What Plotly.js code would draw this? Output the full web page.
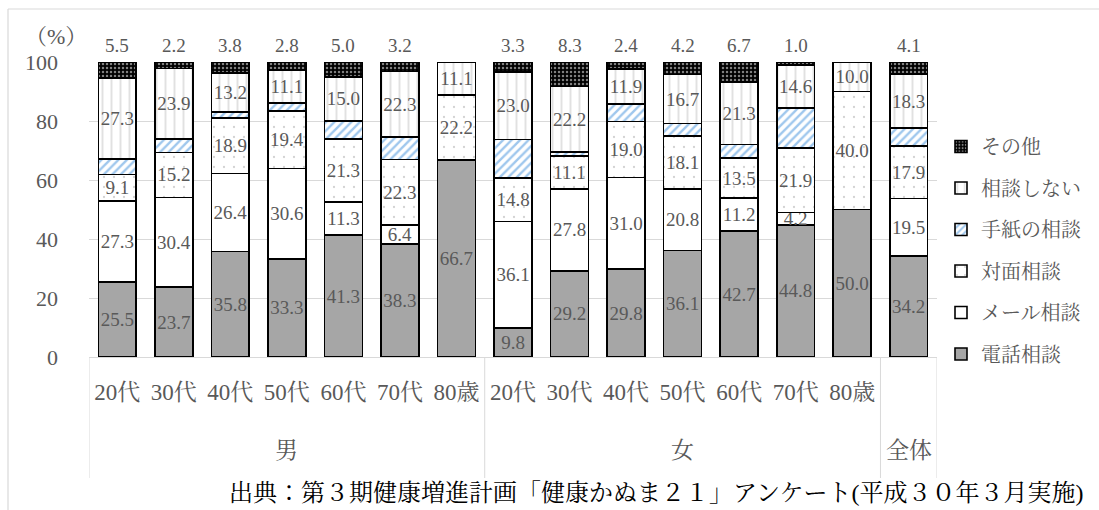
<!DOCTYPE html>
<html>
<head>
<meta charset="utf-8">
<script src="https://cdn.plot.ly/plotly-3.0.1.min.js"></script>
<style>
  html, body { margin: 0; padding: 0; background: #fff; }
  #chart { width: 1099px; height: 510px; }
</style>
</head>
<body>
<div id="chart"></div>
<script>
// Age bands (tick labels) and the groups they belong to
const ageLabels = ['20代','30代','40代','50代','60代','70代','80歳',
                   '20代','30代','40代','50代','60代','70代','80歳',''];
const groupNames = ['男', '女', '全体'];
const groupSizes = [7, 7, 1];

// Share of answers (%) per consultation method
const phone      = [25.5, 23.7, 35.8, 33.3, 41.3, 38.3, 66.7,  9.8, 29.2, 29.8, 36.1, 42.7, 44.8, 50.0, 34.2];
const mail       = [27.3, 30.4, 26.4, 30.6, 11.3,  6.4,  0.0, 36.1, 27.8, 31.0, 20.8, 11.2,  4.2,  0.0, 19.5];
const faceToFace = [ 9.1, 15.2, 18.9, 19.4, 21.3, 22.3, 22.2, 14.8, 11.1, 19.0, 18.1, 13.5, 21.9, 40.0, 17.9];
const letter     = [ 5.3,  4.6,  1.9,  2.8,  6.1,  7.5,  0.0, 13.0,  1.4,  5.9,  4.1,  4.6, 13.5,  0.0,  6.0];
const noConsult  = [27.3, 23.9, 13.2, 11.1, 15.0, 22.3, 11.1, 23.0, 22.2, 11.9, 16.7, 21.3, 14.6, 10.0, 18.3];
const other      = [ 5.5,  2.2,  3.8,  2.8,  5.0,  3.2,  0.0,  3.3,  8.3,  2.4,  4.2,  6.7,  1.0,  0.0,  4.1];

const FONT = "'Liberation Serif', 'Noto Serif CJK JP', 'Noto Sans CJK JP', serif";
const TXT = '#595959';
const GRID = '#d9d9d9';

// geometry of the plot area in pixels
const W = 1099, H = 510;
const M = { l: 89, r: 162, t: 62, b: 153 };
const PW = W - M.l - M.r, PH = H - M.t - M.b;
const px = x => (x - M.l) / PW;      // pixel x -> paper x
const py = y => (H - M.b - y) / PH;  // pixel y -> paper y

const xs = ageLabels.map((_, i) => i);
const lbl = arr => arr.map(v => v > 0 ? v.toFixed(1) : '');

function barTrace(name, rank, values, color, pattern, withText) {
  const t = {
    type: 'bar', name: name, legendgroup: name, legendrank: rank,
    x: xs, y: values,
    marker: { color: color, line: { color: '#000', width: 1.6 } },
    hoverinfo: 'skip'
  };
  if (pattern) t.marker.pattern = Object.assign({ fillmode: 'overlay' }, pattern);
  if (withText) {
    t.text = lbl(values);
    t.textposition = 'inside';
    t.insidetextanchor = 'middle';
    t.textangle = 0;
    t.constraintext = 'none';
    t.insidetextfont = { family: FONT, size: 19, color: TXT };
  } else {
    t.textposition = 'none';
  }
  return t;
}

// stacked bottom to top; legend lists them top to bottom in reverse
const data = [
  barTrace('電話相談', 6, phone, '#a6a6a6', null, true),
  barTrace('メール相談', 5, mail, '#ffffff', null, true),
  barTrace('対面相談', 4, faceToFace, '#ffffff',
           { shape: '.', fgcolor: '#a6a6a6', size: 10, solidity: 0.04 }, true),
  barTrace('手紙の相談', 3, letter, '#ffffff',
           { shape: '/', fgcolor: '#3f8fdc', size: 6, solidity: 0.4 }, false),
  barTrace('相談しない', 2, noConsult, '#ffffff',
           { shape: '|', fgcolor: '#c4c4c4', size: 9, solidity: 0.22 }, true),
  barTrace('その他', 1, other, '#000000',
           { shape: '.', fgcolor: '#ffffff', size: 4, solidity: 0.3 }, false)
];

// labels for "その他" sit above each bar
const annotations = [];
other.forEach((v, i) => {
  if (v > 0) annotations.push({
    x: i, y: 100, xref: 'x', yref: 'y', yshift: 17, yanchor: 'middle',
    text: v.toFixed(1), showarrow: false,
    font: { family: FONT, size: 19, color: TXT }
  });
});

// group labels and divider lines of the category table
const shapes = [];
let start = 0;
const tableBottom = py(478);
shapes.push({ type: 'line', xref: 'x', yref: 'paper', x0: -0.5, x1: -0.5, y0: 0, y1: tableBottom,
              line: { color: GRID, width: 1 } });
groupNames.forEach((g, k) => {
  const n = groupSizes[k];
  annotations.push({
    x: start + (n - 1) / 2, xref: 'x', y: py(450), yref: 'paper', yanchor: 'middle',
    text: g, showarrow: false, font: { family: FONT, size: 23, color: TXT }
  });
  start += n;
  shapes.push({ type: 'line', xref: 'x', yref: 'paper', x0: start - 0.5, x1: start - 0.5,
                y0: 0, y1: tableBottom, line: { color: GRID, width: 1 } });
});

// unit label and source note
annotations.push({
  x: px(56), y: py(36), xref: 'paper', yref: 'paper', xanchor: 'center', yanchor: 'middle',
  text: '（%）', showarrow: false, font: { family: FONT, size: 22, color: TXT }
});
annotations.push({
  x: px(1086), y: py(493), xref: 'paper', yref: 'paper', xanchor: 'right', yanchor: 'middle',
  text: '出典：第３期健康増進計画「健康かぬま２１」アンケート(平成３０年３月実施)',
  showarrow: false, font: { family: FONT, size: 24, color: '#000' }
});

// chart-area frame (top and left edges)
shapes.push({ type: 'line', xref: 'paper', yref: 'paper', x0: px(8), x1: px(1200), y0: py(9), y1: py(9),
              line: { color: GRID, width: 1.2 } });
shapes.push({ type: 'line', xref: 'paper', yref: 'paper', x0: px(8), x1: px(8), y0: py(9), y1: py(600),
              line: { color: GRID, width: 1.2 } });

const layout = {
  width: W, height: H,
  margin: M,
  paper_bgcolor: '#fff', plot_bgcolor: '#fff',
  barmode: 'stack', bargap: 0.33,
  showlegend: true,
  font: { family: FONT, color: TXT },
  xaxis: {
    range: [-0.5, ageLabels.length - 0.5],
    tickmode: 'array', tickvals: xs, ticktext: ageLabels,
    showgrid: false, zeroline: false, showline: false, ticks: '',
    ticklabelstandoff: 19,
    tickfont: { family: FONT, size: 23, color: TXT },
    fixedrange: true
  },
  yaxis: {
    range: [0, 100], dtick: 20, tick0: 0,
    showgrid: true, gridcolor: GRID, gridwidth: 1,
    zeroline: true, zerolinecolor: GRID, zerolinewidth: 1,
    showline: false, ticks: '',
    ticklabelstandoff: 30,
    tickfont: { family: FONT, size: 22, color: TXT },
    fixedrange: true
  },
  legend: {
    x: px(941), xanchor: 'left', y: py(127), yanchor: 'top',
    traceorder: 'grouped', tracegroupgap: 12.5,
    font: { family: FONT, size: 20, color: TXT },
    bgcolor: 'rgba(0,0,0,0)', borderwidth: 0
  },
  annotations: annotations,
  shapes: shapes
};

Plotly.newPlot('chart', data, layout, { staticPlot: true, displayModeBar: false });
</script>
</body>
</html>
